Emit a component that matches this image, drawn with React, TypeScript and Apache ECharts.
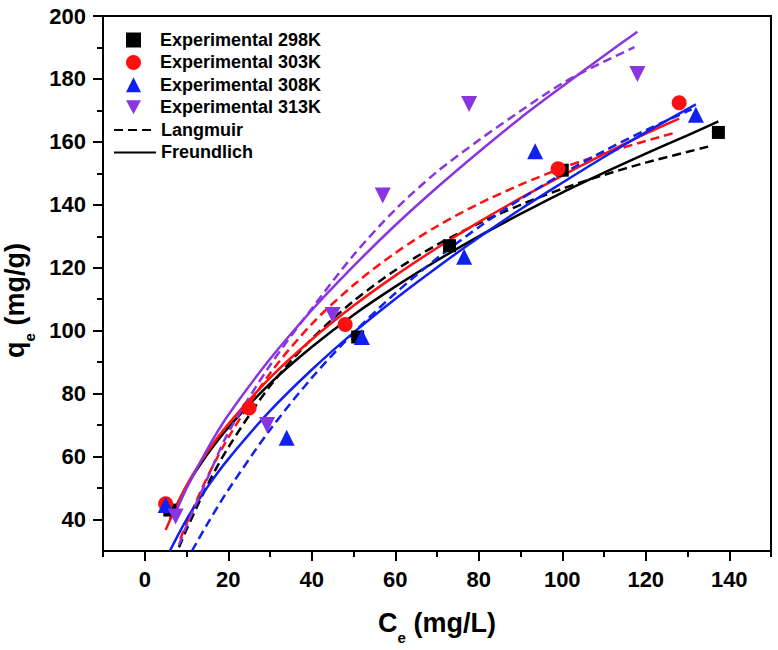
import React, { useEffect, useRef } from "react";
import * as echarts from "echarts";

const FONT = "'Liberation Sans', Arial, Helvetica, sans-serif";

const xMajorTicks = [0, 20, 40, 60, 80, 100, 120, 140];
const xMinorTicks = [-10, 10, 30, 50, 70, 90, 110, 130, 150];
const yMajorTicks = [40, 60, 80, 100, 120, 140, 160, 180, 200];
const yMinorTicks = [50, 70, 90, 110, 130, 150, 170, 190];

// experimental points [Ce, qe]
const exp298 = [[6, 43], [51, 98], [73, 127], [100, 151], [137.4, 163]];
const exp303 = [[5, 45], [25, 75.4], [48, 102], [99, 151.5], [128, 172.4]];
const exp308 = [[5, 44.6], [34, 66], [52, 98], [76.5, 123.5], [93.5, 157], [132, 168.6]];
const exp313 = [[7.4, 41], [29.3, 70], [45, 105], [57, 143], [77.7, 172], [118, 181.6]];

// Langmuir curves (dashed)
const lang298 = [[8.2, 31.2], [10, 36.8], [15, 50.9], [20, 62.9], [30, 82.4], [40, 97.4], [50, 109.4], [60, 119.2], [70, 127.3], [80, 134.1], [90, 140], [100, 145.1], [110, 149.5], [120, 153.4], [135.3, 158.6]];
const lang303 = [[8.5, 33.8], [10, 38.7], [15, 53.5], [20, 66], [30, 86.4], [40, 102.1], [50, 114.5], [60, 124.7], [70, 133.2], [80, 140.3], [90, 146.4], [100, 151.7], [110, 156.3], [120, 160.3], [127.3, 163]];
const lang308 = [[11.3, 30], [15, 38.6], [20, 49.4], [30, 68.5], [40, 85], [50, 99.3], [60, 111.9], [70, 123], [80, 132.9], [90, 141.8], [100, 149.8], [110, 157.1], [120, 163.7], [131, 170.3]];
const lang313 = [[8.2, 31.9], [10, 38], [15, 53], [20, 67.6], [30, 89], [40, 107], [50, 124], [60, 138.5], [70, 150.5], [80, 160.5], [90, 169.8], [100, 178.6], [110, 185.5], [117.3, 190.1]];

// Freundlich curves (solid)
const freu298 = [[6, 40], [10, 50.5], [15, 60.7], [20, 69.2], [30, 83.2], [40, 94.8], [50, 105], [60, 114], [70, 122.3], [80, 130], [90, 137.1], [100, 143.9], [110, 150.2], [120, 156.3], [130, 162.1], [137.4, 166.5]];
const freu303 = [[5, 36.7], [10, 50.8], [15, 61.5], [20, 70.3], [30, 85], [40, 97.2], [50, 107.9], [60, 117.5], [70, 126.3], [80, 134.5], [90, 142.1], [100, 149.3], [110, 156.1], [120, 162.6], [128, 167.4]];
const freu308 = [[6, 30], [10, 40], [15, 50.3], [20, 59.2], [30, 74.5], [40, 87.6], [50, 99.4], [60, 110.1], [70, 120.1], [80, 129.6], [90, 138.6], [100, 147], [110, 155.2], [120, 163], [132, 171.9]];
const freu313 = [[7, 41], [10, 49.9], [15, 62.4], [20, 73.2], [30, 91], [40, 106.5], [50, 120.5], [60, 133.5], [70, 145.5], [80, 156.8], [90, 167.6], [100, 177.6], [110, 187.4], [118, 195]];

const BLACK = "#000000";
const RED = "#ff1010";
const BLUE = "#1020f0";
const PURPLE = "#8a35e0";

const titleRich = {
  b: { fontSize: 27, fontWeight: "bold", fontFamily: FONT, color: "#000", lineHeight: 28, verticalAlign: "top" },
  s: { fontSize: 15, fontWeight: "bold", fontFamily: FONT, color: "#000", lineHeight: 14, padding: [21, 0, 0, 0], verticalAlign: "top" },
};

const tickLabel = { fontSize: 22, fontWeight: "bold", fontFamily: FONT, color: "#000" };
const legendText = { fontSize: 18, fontWeight: "bold", fontFamily: FONT, color: "#000" };

const curve = (name: string, data: number[][], color: string, dashed: boolean) => ({
  name,
  type: "line",
  data,
  smooth: 0.3,
  symbol: "none",
  showSymbol: false,
  z: 2,
  lineStyle: { color, width: 2.5, type: dashed ? [9, 5] : "solid" },
  itemStyle: { color },
});

const points = (name: string, data: number[][], color: string, symbol: string, size: number, rotate = 0) => ({
  name,
  type: "scatter",
  data,
  symbol,
  symbolSize: size,
  symbolRotate: rotate,
  z: 5,
  itemStyle: { color, opacity: 1 },
});

const App = () => {
  const chartRef = useRef<HTMLDivElement>(null);

  useEffect(() => {
    if (!chartRef.current) return;
    const chart = echarts.init(chartRef.current, null, { renderer: "svg" });

    const option: any = {
      animation: false,
      backgroundColor: "#fff",
      grid: {
        left: 103,
        right: 7,
        top: 16,
        bottom: 99,
        show: true,
        borderColor: "#000",
        borderWidth: 2,
        containLabel: false,
        outerBoundsMode: "none",
      },
      legend: [
        {
          orient: "vertical",
          left: 121,
          top: 26,
          itemWidth: 15,
          itemHeight: 15,
          itemGap: 4.4,
          textStyle: { ...legendText, padding: [0, 0, 0, 14] },
          data: [
            "Experimental 298K",
            "Experimental 303K",
            "Experimental 308K",
            { name: "Experimental 313K", icon: "path://M0,0L16,0L8,15Z" },
          ],
        },
        {
          orient: "vertical",
          left: 108,
          top: 116,
          itemWidth: 42,
          itemHeight: 14,
          itemGap: 4.4,
          textStyle: legendText,
          data: [
            { name: "Langmuir", itemStyle: { opacity: 0 } },
            { name: "Freundlich", itemStyle: { opacity: 0 } },
          ],
        },
      ],
      xAxis: [
        {
          type: "value",
          min: -10,
          max: 150,
          position: "bottom",
          axisLine: { show: true, onZero: false, lineStyle: { color: "#000", width: 2 } },
          axisTick: { show: true, length: 10, customValues: xMajorTicks, lineStyle: { color: "#000", width: 2 } },
          axisLabel: { ...tickLabel, margin: 17, customValues: xMajorTicks },
          splitLine: { show: false },
          name: "{b|C}{s|e}{b| (mg/L)}",
          nameLocation: "middle",
          nameGap: 58,
          nameTextStyle: { rich: titleRich },
        },
        {
          type: "value",
          min: -10,
          max: 150,
          position: "bottom",
          axisLine: { show: false, onZero: false },
          axisTick: { show: true, length: 6, customValues: xMinorTicks, lineStyle: { color: "#000", width: 2 } },
          axisLabel: { show: false },
          splitLine: { show: false },
        },
      ],
      yAxis: [
        {
          type: "value",
          min: 30,
          max: 200,
          position: "left",
          axisLine: { show: true, onZero: false, lineStyle: { color: "#000", width: 2 } },
          axisTick: { show: true, length: 10, customValues: yMajorTicks, lineStyle: { color: "#000", width: 2 } },
          axisLabel: { ...tickLabel, margin: 17, customValues: yMajorTicks },
          splitLine: { show: false },
          name: "{b|q}{s|e}{b| (mg/g)}",
          nameLocation: "middle",
          nameGap: 74,
          nameTextStyle: { rich: titleRich, padding: [0, 34, 0, 0] },
        },
        {
          type: "value",
          min: 30,
          max: 200,
          position: "left",
          axisLine: { show: false, onZero: false },
          axisTick: { show: true, length: 6, customValues: yMinorTicks, lineStyle: { color: "#000", width: 2 } },
          axisLabel: { show: false },
          splitLine: { show: false },
        },
      ],
      series: [
        curve("Langmuir 298K", lang298, BLACK, true),
        curve("Freundlich 298K", freu298, BLACK, false),
        curve("Langmuir 303K", lang303, RED, true),
        curve("Freundlich 303K", freu303, RED, false),
        curve("Langmuir 308K", lang308, BLUE, true),
        curve("Freundlich 308K", freu308, BLUE, false),
        curve("Langmuir 313K", lang313, PURPLE, true),
        curve("Freundlich 313K", freu313, PURPLE, false),
        curve("Langmuir", [], BLACK, true),
        curve("Freundlich", [], BLACK, false),
        points("Experimental 298K", exp298, BLACK, "rect", 13),
        points("Experimental 303K", exp303, RED, "circle", 15),
        points("Experimental 308K", exp308, BLUE, "triangle", 16),
        points("Experimental 313K", exp313, PURPLE, "triangle", 16, 180),
      ],
    };

    chart.setOption(option);
    return () => chart.dispose();
  }, []);

  return (
    <div
      ref={chartRef}
      style={{ position: "fixed", left: 0, top: 0, width: 778, height: 650, background: "#fff" }}
    />
  );
};

export default App;
